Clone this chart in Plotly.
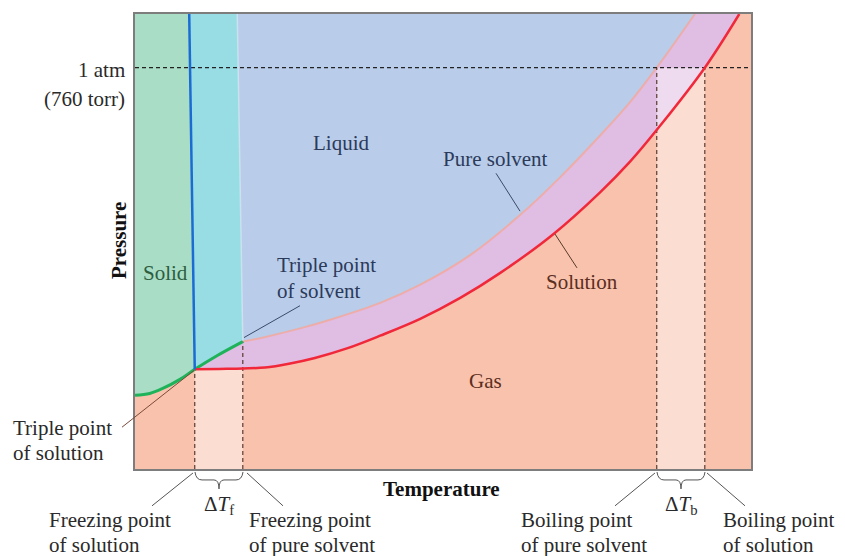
import plotly.graph_objects as go

# ---------------- data (temperature / pressure in arbitrary units 0-100) ----------------
sub_T = [0, 2.4, 4.5, 7.3, 9.7, 13.3, 17.5]          # sublimation curve (solid-gas)
sub_P = [16.2, 16.6, 17.7, 19.7, 21.9, 24.9, 28.0]

melt_solution_T = [9.7, 8.8]                         # solid-liquid line of solution
melt_solution_P = [21.9, 100]
melt_solvent_T = [17.5, 16.6]                        # solid-liquid line of pure solvent
melt_solvent_P = [28.0, 100]

solution_T = [9.7, 13.6, 17.5, 21.1, 25.2, 29.2, 34.4, 39.8, 46.3, 52.8, 59.3, 67.9, 75.5, 80.4, 85.4, 92.5, 98.1]
solution_P = [21.9, 22.0, 22.1, 22.3, 23.2, 24.4, 26.5, 29.3, 33.0, 37.6, 43.1, 51.6, 60.8, 67.6, 75.7, 88.2, 100.0]

pure_T = [17.5, 20.8, 26.8, 31.7, 39.8, 46.3, 54.4, 62.5, 69.0, 75.5, 80.4, 84.7, 90.9]
pure_P = [28.0, 28.9, 30.9, 32.8, 36.5, 40.5, 47.0, 55.8, 64.1, 73.3, 80.7, 88.2, 100.0]

P_1atm = 88.2
Tf_solution, Tf_solvent = 9.7, 17.5
Tb_solvent, Tb_solution = 84.7, 92.5
P_triple_solution, P_triple_solvent = 21.9, 28.0

# ---------------- styles ----------------
FONT = "Liberation Serif"
FS = 21
C_GAS = "#F9C2AD"
C_LIQ = "#B9CDEA"
C_SOLID = "#AADDC6"
C_CYAN = "#98DDE4"
C_LAV = "#E0BDE2"

fig = go.Figure()

def poly(x, y, color):
    fig.add_trace(go.Scatter(x=x, y=y, fill="toself", fillcolor=color, mode="lines",
                             line=dict(width=0, color=color), hoverinfo="skip", showlegend=False))

k = sub_T.index(Tf_solution)
# lavender band (liquid solution / gaseous pure solvent)
poly(solution_T + [melt_solution_T[1]], solution_P + [100], C_LAV)
# liquid
poly(pure_T + [melt_solvent_T[1]], pure_P + [100], C_LIQ)
# cyan strip between the two melting lines
poly(sub_T[k:] + [melt_solvent_T[1], melt_solution_T[1]], sub_P[k:] + [100, 100], C_CYAN)
# solid
poly(sub_T[:k + 1] + [melt_solution_T[1], 0], sub_P[:k + 1] + [100, 100], C_SOLID)
# light strips (delta T regions)
poly([Tf_solution, Tf_solvent, Tf_solvent, Tf_solution], [0, 0, P_triple_solution, P_triple_solution],
     "rgba(255,255,255,0.45)")
poly([Tb_solvent, Tb_solution, Tb_solution, Tb_solvent], [0, 0, P_1atm, P_1atm],
     "rgba(255,255,255,0.45)")

def line(x, y, color, width, dash="solid", shape="linear"):
    fig.add_trace(go.Scatter(x=x, y=y, mode="lines", line=dict(color=color, width=width, dash=dash, shape=shape),
                             hoverinfo="skip", showlegend=False))

# boundary of pure solvent (faint)
line(pure_T, pure_P, "rgba(245,165,150,0.75)", 2, shape="spline")
line(melt_solvent_T, melt_solvent_P, "rgba(255,255,255,0.35)", 1.5)
# dashed guides
DASH = "4px,3px"
line([0, 100], [P_1atm, P_1atm], "#222222", 1.2, DASH)
line([Tf_solution, Tf_solution], [0, P_triple_solution], "#5a3a32", 1.2, DASH)
line([Tf_solvent, Tf_solvent], [0, P_triple_solvent], "#5a3a32", 1.2, DASH)
line([Tb_solvent, Tb_solvent], [0, P_1atm], "#5a3a32", 1.2, DASH)
line([Tb_solution, Tb_solution], [0, P_1atm], "#5a3a32", 1.2, DASH)
# phase lines
line(sub_T, sub_P, "#1EB35A", 3, shape="spline")
line(solution_T, solution_P, "#F0283A", 2.5, shape="spline")
line(melt_solution_T, melt_solution_P, "#1A6CD4", 2.5)

# ---------------- pixel helpers for labels (plot area 135..751 x 12..469 in the window) ----------------
def X(px):
    return (px - 135) / 616.0

def Y(py):
    return (469 - py) / 457.0

shapes = []

def pointer(x0, y0, x1, y1, color="#555555"):
    shapes.append(dict(type="line", xref="paper", yref="paper", x0=X(x0), y0=Y(y0), x1=X(x1), y1=Y(y1),
                       line=dict(color=color, width=1)))

pointer(122, 427, 194, 370, "#7a4a3a")      # triple point of solution
pointer(300, 305, 244, 337, "#3a4a6a")      # triple point of solvent
pointer(496, 172, 520, 210, "#3a4a6a")      # pure solvent
pointer(555, 233, 577, 267, "#5a3a2a")      # solution
pointer(193, 473, 152, 506)
pointer(247, 473, 283, 506)
pointer(655, 473, 615, 506)
pointer(707, 473, 745, 506)

def brace(x0, x1, ytop=472, ymid=480, ytip=489):
    m = (x0 + x1) / 2
    pts = [
        ("M", [(x0, ytop)]),
        ("Q", [(x0 + 1, ymid), (x0 + 7, ymid)]),
        ("L", [(m - 5, ymid)]),
        ("Q", [(m, ymid), (m, ytip)]),
        ("Q", [(m, ymid), (m + 5, ymid)]),
        ("L", [(x1 - 7, ymid)]),
        ("Q", [(x1 - 1, ymid), (x1, ytop)]),
    ]
    d = ""
    for cmd, ps in pts:
        d += cmd + " " + " ".join(f"{X(a):.5f},{Y(b):.5f}" for a, b in ps) + " "
    shapes.append(dict(type="path", xref="paper", yref="paper", path=d.strip(),
                       line=dict(color="#555555", width=1)))

brace(195, 243)
brace(657, 705)

fig.update_layout(shapes=shapes)

# ---------------- annotations ----------------
def text(s, x, y, size=FS, color="#2a2a2a", xanchor="center", bold=False, angle=0):
    if bold:
        s = "<b>" + s + "</b>"
    fig.add_annotation(text=s, x=X(x), y=Y(y), xref="paper", yref="paper", showarrow=False,
                       xanchor=xanchor, yanchor="middle", textangle=angle,
                       font=dict(family=FONT, size=size, color=color))

def text2(l1, l2, x, y1, y2, color="#2a2a2a", xanchor="left"):
    text(l1, x, y1, color=color, xanchor=xanchor)
    text(l2, x, y2, color=color, xanchor=xanchor)

text("1 atm", 127, 68, xanchor="right")
text("(760 torr)", 127, 97, xanchor="right")
text("Pressure", 119, 240, color="#111111", bold=True, angle=-90)
text("Temperature", 441, 489, color="#111111", bold=True)
text("Solid", 165, 272, color="#2d5e40")
text("Liquid", 341, 142, color="#2c3a5a")
text("Gas", 485, 381, color="#5b2e1e")
text("Pure solvent", 495, 158, color="#2c3a5a")
text("Solution", 582, 281, color="#5b2e1e")
text2("Triple point", "of solvent", 275, 264, 290, color="#2c3a5a")
text2("Triple point", "of solution", 11, 428, 453)
text2("Freezing point", "of solution", 47, 520, 545)
text2("Freezing point", "of pure solvent", 247, 520, 545)
text2("Boiling point", "of pure solvent", 519, 520, 545)
text2("Boiling point", "of solution", 721, 520, 545)
text("Δ<i>T</i><sub>f</sub>", 219, 505)
text("Δ<i>T</i><sub>b</sub>", 681, 505)

axis = dict(range=[0, 100], showgrid=False, zeroline=False, showticklabels=False, ticks="",
            showline=True, mirror=True, linecolor="#7d7d7d", linewidth=1.5, fixedrange=True)

# the page places the figure 8px from the window's top-left corner, so size/margins compensate
fig.update_layout(
    width=837, height=548, autosize=False,
    margin=dict(l=127, r=94, t=4, b=87),
    paper_bgcolor="white", plot_bgcolor=C_GAS,
    xaxis=axis, yaxis=axis, showlegend=False,
)

fig.write_html("out.html")
